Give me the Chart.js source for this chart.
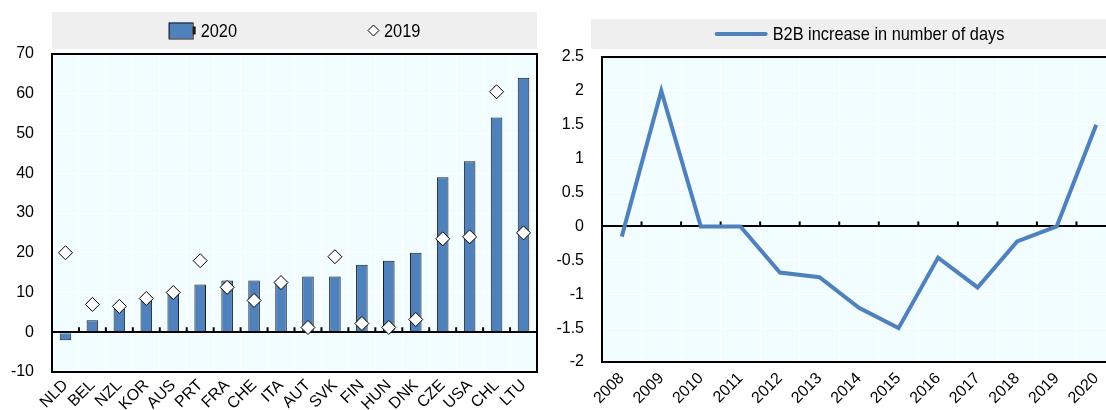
<!DOCTYPE html>
<html>
<head>
<meta charset="utf-8">
<script src="https://cdn.jsdelivr.net/npm/chart.js@4.4.1/dist/chart.umd.min.js"></script>
<style>
  html, body { margin: 0; padding: 0; background: #fff; overflow: hidden; width: 1106px; height: 410px; }
  #leftBox { position: absolute; left: 0; top: 0; width: 545px; height: 410px; }
  #rightBox { position: absolute; left: 550px; top: 0; width: 568px; height: 410px; }
</style>
</head>
<body>
<div id="leftBox"><canvas id="countryChart"></canvas></div>
<div id="rightBox"><canvas id="yearChart"></canvas></div>
<script>
// left panel data
const countries = ['NLD', 'BEL', 'NZL', 'KOR', 'AUS', 'PRT', 'FRA', 'CHE', 'ITA', 'AUT', 'SVK', 'FIN', 'HUN', 'DNK', 'CZE', 'USA', 'CHL', 'LTU'];
const values2020 = [-2, 3, 6, 8, 10, 12, 13, 13, 13, 14, 14, 17, 18, 20, 39, 43, 54, 64];
const values2019 = [20, 7, 6.5, 8.5, 10, 18, 11.3, 8, 12.5, 1.2, 19, 2.2, 1.2, 3.2, 23.5, 24, 60.5, 25];
const leftTicks = [-10, 0, 10, 20, 30, 40, 50, 60, 70];

// right panel data
const years = ['2008', '2009', '2010', '2011', '2012', '2013', '2014', '2015', '2016', '2017', '2018', '2019', '2020'];
const b2bDays = [-0.15, 2, 0, 0, -0.68, -0.75, -1.2, -1.5, -0.46, -0.9, -0.22, 0, 1.5];
const rightTicks = [-2, -1.5, -1, -0.5, 0, 0.5, 1, 1.5, 2, 2.5];

const BLUE = '#4f81bd';
const PLOT_BG = '#f2fdff';
const TICK_FONT = { family: 'Liberation Sans, Arial, sans-serif', size: 16 };
// no narrow face installed, so the legend text is squeezed horizontally
const LEGEND_FONT = '19px "Liberation Sans", Arial, sans-serif';
const LEGEND_SQUEEZE = 0.86;

// light plot background + black frame round the plot area
const plotFrame = {
  id: 'plotFrame',
  beforeDraw(chart) {
    const { ctx, chartArea: a } = chart;
    ctx.save();
    ctx.fillStyle = PLOT_BG;
    ctx.fillRect(a.left, a.top, a.right - a.left, a.bottom - a.top);
    ctx.restore();
  },
  afterDraw(chart) {
    const { ctx, chartArea: a } = chart;
    ctx.save();
    ctx.strokeStyle = '#000';
    ctx.lineWidth = 2;
    ctx.strokeRect(a.left, a.top, a.right - a.left, a.bottom - a.top);
    ctx.restore();
  }
};

// small marks standing on the zero line, between categories
const zeroTicks = {
  id: 'zeroTicks',
  beforeDatasetsDraw(chart) {
    const { ctx, scales: { x, y } } = chart;
    const y0 = y.getPixelForValue(0);
    ctx.save();
    ctx.strokeStyle = '#000';
    ctx.lineWidth = 2;
    for (let i = 1; i < x.ticks.length; i++) {
      const px = (x.getPixelForTick(i - 1) + x.getPixelForTick(i)) / 2;
      ctx.beginPath();
      ctx.moveTo(px, y0);
      ctx.lineTo(px, y0 - 5);
      ctx.stroke();
    }
    ctx.restore();
  }
};

function drawIcon(ctx, kind, x, cy) {
  ctx.save();
  if (kind === 'bar') {
    ctx.fillStyle = BLUE;
    ctx.strokeStyle = '#1a1a1a';
    ctx.lineWidth = 1;
    ctx.fillRect(x, cy - 8, 24, 16);
    ctx.strokeRect(x + 0.5, cy - 7.5, 24, 16);
    ctx.fillStyle = '#1a1a1a';
    ctx.fillRect(x + 24, cy - 4, 3, 8);
  } else if (kind === 'diamond') {
    ctx.fillStyle = '#fff';
    ctx.strokeStyle = '#000';
    ctx.lineWidth = 1;
    ctx.beginPath();
    ctx.moveTo(x + 5.5, cy - 5.5);
    ctx.lineTo(x + 11, cy);
    ctx.lineTo(x + 5.5, cy + 5.5);
    ctx.lineTo(x, cy);
    ctx.closePath();
    ctx.fill();
    ctx.stroke();
  } else {
    ctx.strokeStyle = BLUE;
    ctx.lineWidth = 4;
    ctx.lineCap = 'round';
    ctx.beginPath();
    ctx.moveTo(x + 2, cy);
    ctx.lineTo(x + 51, cy);
    ctx.stroke();
  }
  ctx.restore();
}

const iconWidth = { bar: 27, diamond: 11, line: 53 };

// grey legend band above the plot, items centred in it
const legendBand = {
  id: 'legendBand',
  afterDraw(chart, args, opts) {
    const { ctx, chartArea: a } = chart;
    const left = a.left + opts.inset;
    const right = a.right;
    ctx.save();
    ctx.fillStyle = '#efefef';
    ctx.fillRect(left, opts.top, right - left, opts.bottom - opts.top);
    ctx.font = LEGEND_FONT;
    ctx.textBaseline = 'middle';
    ctx.fillStyle = '#000';
    const items = chart.data.datasets.map(ds => {
      const iw = iconWidth[ds.legendIcon];
      const tw = ctx.measureText(ds.label).width * LEGEND_SQUEEZE;
      return { ds, iw, w: iw + opts.textGap + tw };
    });
    const total = items.reduce((s, it) => s + it.w, 0) + opts.itemGap * (items.length - 1);
    let x = (left + right) / 2 - total / 2 + opts.shift;
    const cy = (opts.top + opts.bottom) / 2;
    items.forEach(it => {
      drawIcon(ctx, it.ds.legendIcon, x, cy);
      ctx.save();
      ctx.translate(x + it.iw + opts.textGap, cy + 1);
      ctx.scale(LEGEND_SQUEEZE, 1);
      ctx.fillText(it.ds.label, 0, 0);
      ctx.restore();
      x += it.w + opts.itemGap;
    });
    ctx.restore();
  }
};

new Chart(document.getElementById('countryChart').getContext('2d'), {
  type: 'bar',
  data: {
    labels: countries,
    datasets: [
      {
        type: 'bar',
        label: '2020',
        legendIcon: 'bar',
        data: values2020,
        backgroundColor: BLUE,
        borderColor: '#1a1a1a',
        borderWidth: 1,
        barPercentage: 0.43,
        categoryPercentage: 1,
        order: 1
      },
      {
        type: 'line',
        label: '2019',
        legendIcon: 'diamond',
        data: values2019,
        showLine: false,
        pointStyle: 'rectRot',
        pointRadius: 7,
        pointHoverRadius: 7,
        pointBackgroundColor: '#fff',
        pointBorderColor: '#000',
        pointBorderWidth: 1,
        order: 0
      }
    ]
  },
  options: {
    responsive: true,
    maintainAspectRatio: false,
    animation: false,
    layout: { padding: { top: 54, right: 8, left: 0, bottom: 0 } },
    plugins: {
      legend: { display: false },
      tooltip: { enabled: false },
      legendBand: { top: 12, bottom: 49, inset: 0, textGap: 5, itemGap: 131, shift: 0 }
    },
    scales: {
      x: {
        afterFit: (scale) => { scale.height = 38; },
        grid: { color: '#ffffff', lineWidth: 1, drawTicks: false, offset: true },
        border: { display: false },
        ticks: { color: '#000', font: TICK_FONT, minRotation: 45, maxRotation: 45, autoSkip: false, padding: 4 }
      },
      y: {
        min: -10,
        max: 70,
        afterFit: (scale) => { scale.width = 52; },
        afterBuildTicks: (scale) => { scale.ticks = leftTicks.map(v => ({ value: v })); },
        grid: {
          drawTicks: false,
          color: (c) => (c.tick.value === 0 ? '#000' : '#ffffff'),
          lineWidth: (c) => (c.tick.value === 0 ? 2 : 1)
        },
        border: { display: false },
        ticks: { color: '#000', font: TICK_FONT, padding: 18 }
      }
    }
  },
  plugins: [plotFrame, zeroTicks, legendBand]
});

new Chart(document.getElementById('yearChart').getContext('2d'), {
  type: 'line',
  data: {
    labels: years,
    datasets: [
      {
        label: 'B2B increase in number of days',
        legendIcon: 'line',
        data: b2bDays,
        borderColor: BLUE,
        borderWidth: 4,
        pointRadius: 0,
        tension: 0,
        fill: false
      }
    ]
  },
  options: {
    responsive: true,
    maintainAspectRatio: false,
    animation: false,
    layout: { padding: { top: 57, right: 2, left: 0, bottom: 0 } },
    plugins: {
      legend: { display: false },
      tooltip: { enabled: false },
      legendBand: { top: 19, bottom: 49, inset: -11, textGap: 5, itemGap: 0, shift: 6 }
    },
    scales: {
      x: {
        offset: true,
        afterFit: (scale) => { scale.height = 48; },
        grid: { color: '#ffffff', lineWidth: 1, drawTicks: false, offset: true },
        border: { display: false },
        ticks: { color: '#000', font: TICK_FONT, minRotation: 45, maxRotation: 45, autoSkip: false, padding: 7 }
      },
      y: {
        min: -2,
        max: 2.5,
        afterFit: (scale) => { scale.width = 52; },
        afterBuildTicks: (scale) => { scale.ticks = rightTicks.map(v => ({ value: v })); },
        grid: {
          drawTicks: false,
          color: (c) => (c.tick.value === 0 ? '#000' : '#ffffff'),
          lineWidth: (c) => (c.tick.value === 0 ? 2 : 1)
        },
        border: { display: false },
        ticks: { color: '#000', font: TICK_FONT, padding: 18, callback: (v) => String(v) }
      }
    }
  },
  plugins: [plotFrame, zeroTicks, legendBand]
});
</script>
</body>
</html>
